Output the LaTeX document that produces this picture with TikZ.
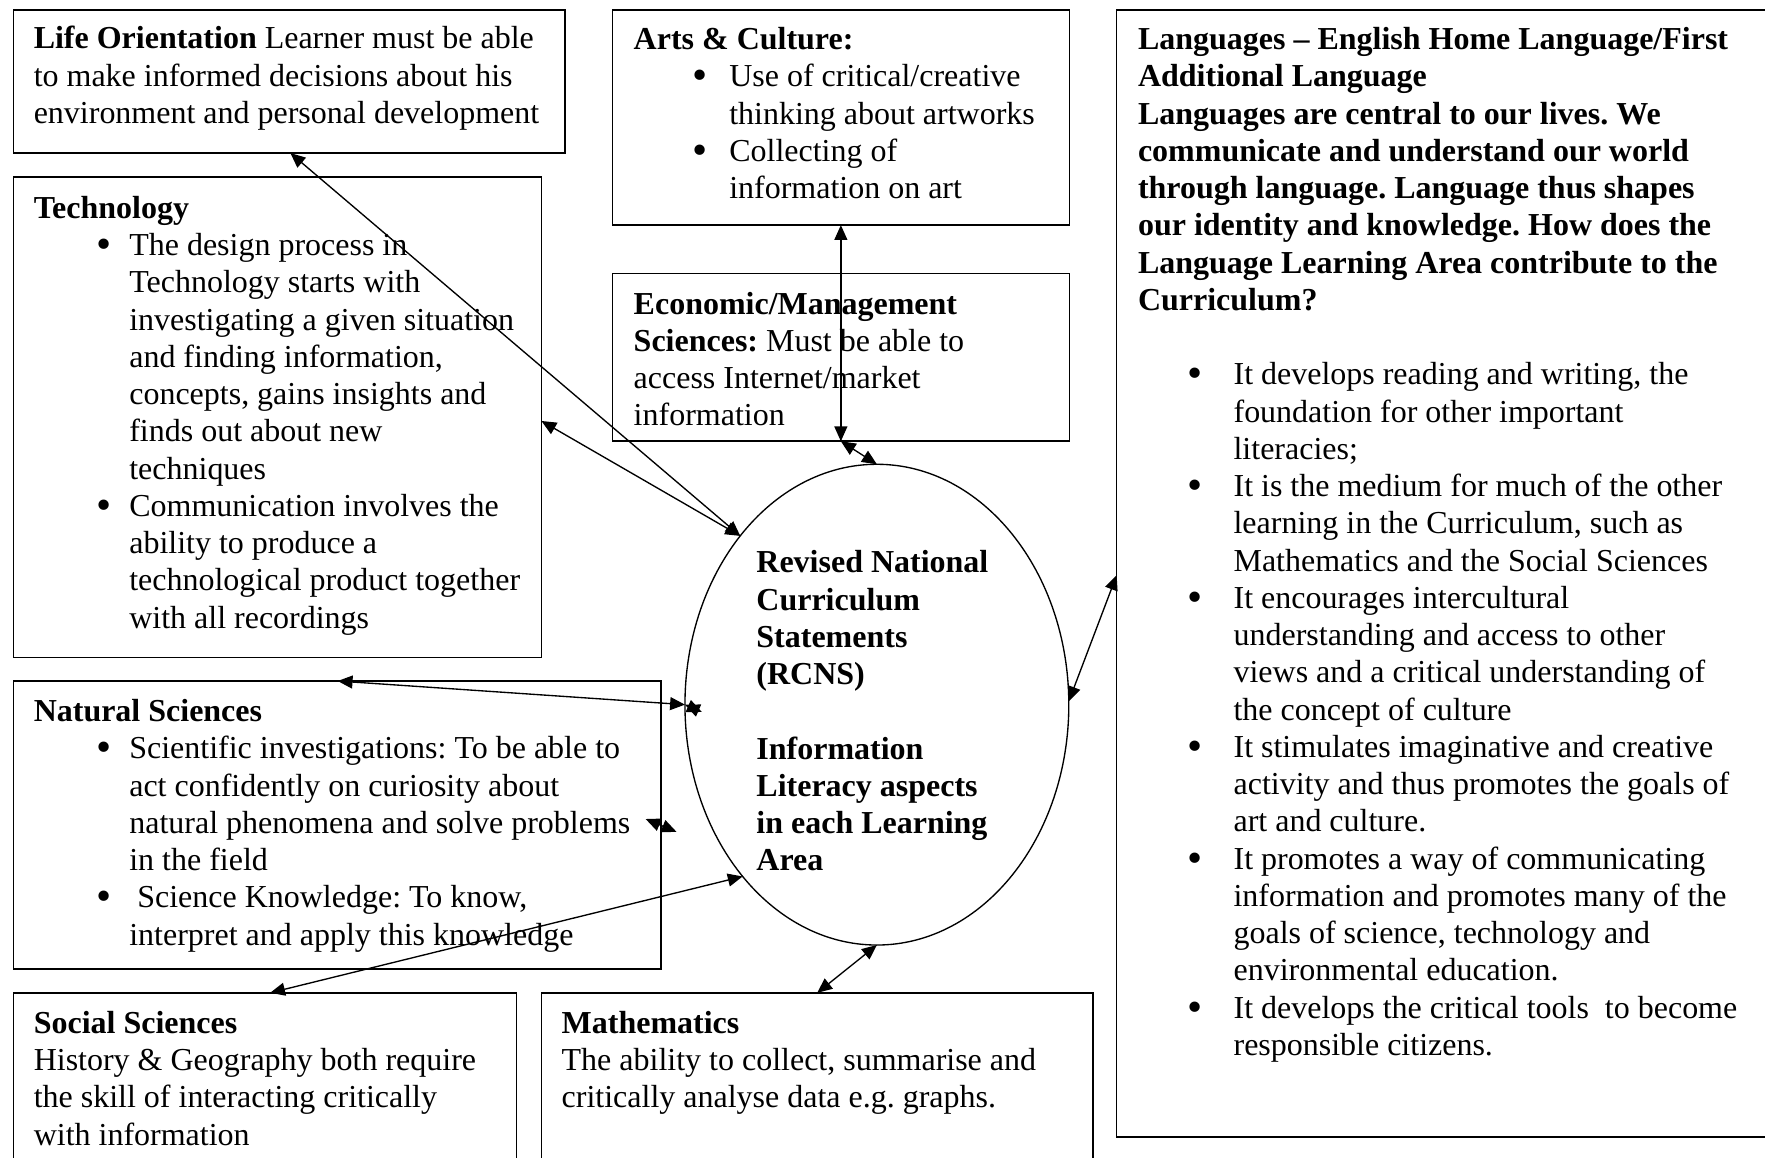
\documentclass[tikz,border=0pt]{standalone}
\usepackage{fontspec}
\setmainfont{Liberation Serif}
\usetikzlibrary{arrows.meta,shapes.geometric,fit,calc}
\frenchspacing
\newlength\tind \setlength\tind{35.4pt}
\newcommand\Bigbul{{\fontsize{16pt}{16pt}\selectfont\raisebox{-1.1pt}{\textbullet}}}
\newcommand\TLine[1]{\hbox{#1}}
\newcommand\TBul[2]{\hbox{\hbox to \tind{\hskip#1\Bigbul\hfil}#2}}
\newcommand\TInd[1]{\hbox{\hskip\tind #1}}
\newcommand\TGap{\vskip13.8pt}
\newcommand\TBox[1]{\vtop{\frenchspacing\baselineskip=13.8pt\lineskiplimit=-20pt\lineskip=0pt #1}}
\tikzset{
  box/.style={draw, rectangle, line width=0.6pt, inner sep=0pt, outer sep=0pt},
  txt/.style={anchor=base west, inner sep=0pt, outer sep=0pt, font=\fontsize{11.85pt}{13.8pt}\selectfont\frenchspacing},
  dbl/.style={<->, >={Triangle[length=5.5pt,width=4.8pt]}, line width=0.5pt},
}
\begin{document}
\begin{tikzpicture}[x=0.417pt, y=-0.417pt]
\useasboundingbox (0,0) rectangle (1568,1028);
\fill[white] (0,0) rectangle (1568,1028);
\clip (0,0) rectangle (1568,1028);

% boxes
\node[box, fit={(12,9) (502,136)}] (lo) {};
\node[box, fit={(12,157) (481,584)}] (tech) {};
\node[box, fit={(12,605) (587,861)}] (ns) {};
\node[box, fit={(12,882) (459,1045)}] (ss) {};
\node[box, fit={(481,882) (971,1045)}] (math) {};
\node[box, fit={(544,9) (950,200)}] (arts) {};
\node[box, fit={(544,243) (950,392)}] (econ) {};
\node[box, fit={(992,9) (1573,1010)}] (lang) {};
\node[draw, ellipse, line width=0.5pt, minimum width=142.2pt, minimum height=178.1pt, inner sep=0pt, outer sep=0pt] (rcns) at (779,626) {};

% texts
\node[txt] (loT) at (30,43.5) {\TBox{%
\TLine{\textbf{Life Orientation} Learner must be able}%
\TLine{to make informed decisions about his}%
\TLine{environment and personal development}}};

\node[txt] (techT) at (30,194) {\TBox{%
\TLine{\textbf{Technology}}%
\TBul{23.3pt}{The design process in}%
\TInd{Technology starts with}%
\TInd{investigating a given situation}%
\TInd{and finding information,}%
\TInd{concepts, gains insights and}%
\TInd{finds out about new}%
\TInd{techniques}%
\TBul{23.3pt}{Communication involves the}%
\TInd{ability to produce a}%
\TInd{technological product together}%
\TInd{with all recordings}}};

\node[txt] (nsT) at (30,641) {\TBox{%
\TLine{\textbf{Natural Sciences}}%
\TBul{23.3pt}{Scientific investigations: To be able to}%
\TInd{act confidently on curiosity about}%
\TInd{natural phenomena and solve problems}%
\TInd{in the field}%
\TBul{23.3pt}{\ Science Knowledge: To know,}%
\TInd{interpret and apply this knowledge}}};

\node[txt] (ssT) at (30,918) {\TBox{%
\TLine{\textbf{Social Sciences}}%
\TLine{History \& Geography both require}%
\TLine{the skill of interacting critically}%
\TLine{with information}}};

\node[txt] (mathT) at (499,918) {\TBox{%
\TLine{\textbf{Mathematics}}%
\TLine{The ability to collect, summarise and}%
\TLine{critically analyse data e.g. graphs.}}};

\node[txt] (artsT) at (563,44) {\TBox{%
\TLine{\textbf{Arts \& Culture:}}%
\TBul{21.7pt}{Use of critical/creative}%
\TInd{thinking about artworks}%
\TBul{21.7pt}{Collecting of}%
\TInd{information on art}}};

\node[txt] (econT) at (563,279) {\TBox{%
\TLine{\textbf{Economic/Management}}%
\TLine{\textbf{Sciences:} Must be able to}%
\TLine{access Internet/market}%
\TLine{information}}};

\node[txt] (langT) at (1011,44) {\TBox{%
\TLine{\textbf{Languages -- English Home Language/First}}%
\TLine{\textbf{Additional Language}}%
\TLine{\textbf{Languages are central to our lives. We}}%
\TLine{\textbf{communicate and understand our world}}%
\TLine{\textbf{through language. Language thus shapes}}%
\TLine{\textbf{our identity and knowledge. How does the}}%
\TLine{\textbf{Language Learning Area contribute to the}}%
\TLine{\textbf{Curriculum?}}%
\TGap
\TBul{18.3pt}{It develops reading and writing, the}%
\TInd{foundation for other important}%
\TInd{literacies;}%
\TBul{18.3pt}{It is the medium for much of the other}%
\TInd{learning in the Curriculum, such as}%
\TInd{Mathematics and the Social Sciences}%
\TBul{18.3pt}{It encourages intercultural}%
\TInd{understanding and access to other}%
\TInd{views and a critical understanding of}%
\TInd{the concept of culture}%
\TBul{18.3pt}{It stimulates imaginative and creative}%
\TInd{activity and thus promotes the goals of}%
\TInd{art and culture.}%
\TBul{18.3pt}{It promotes a way of communicating}%
\TInd{information and promotes many of the}%
\TInd{goals of science, technology and}%
\TInd{environmental education.}%
\TBul{18.3pt}{It develops the critical tools\ \ to become}%
\TInd{responsible citizens.}}};

\node[txt] (rcnsT) at (672,509) {\TBox{\bfseries
\TLine{Revised National}%
\TLine{Curriculum}%
\TLine{Statements}%
\TLine{(RCNS)}%
\TGap
\TLine{Information}%
\TLine{Literacy aspects}%
\TLine{in each Learning}%
\TLine{Area}}};

% free ends of the two short arrows
\coordinate (nsx) at (623.5,632.5);
\coordinate (nsa) at (573.6,727.6);
\coordinate (nsb) at (601,739);

% connectors
\draw[dbl] ($(lo.south west)+(246,0)$) -- (rcns.129);
\draw[dbl] ($(tech.north east)+(0,217)$) -- (rcns.129);
\draw[dbl] (arts.south) -- (econ.south);
\draw[dbl] (econ.south) -- (rcns.90);
\draw[dbl] ($(ns.north west)+(288,0)$) -- (rcns.180);
\draw[dbl] (rcns.180) -- (nsx);
\draw[dbl] (nsa) -- (nsb);
\draw[dbl] ($(ss.north west)+(228,0)$) -- (rcns.232);
\draw[dbl] ($(math.north west)+(245,0)$) -- (rcns.south);
\draw[dbl] ($(lang.north west)+(0,502)$) -- (rcns.1);
\end{tikzpicture}
\end{document}
